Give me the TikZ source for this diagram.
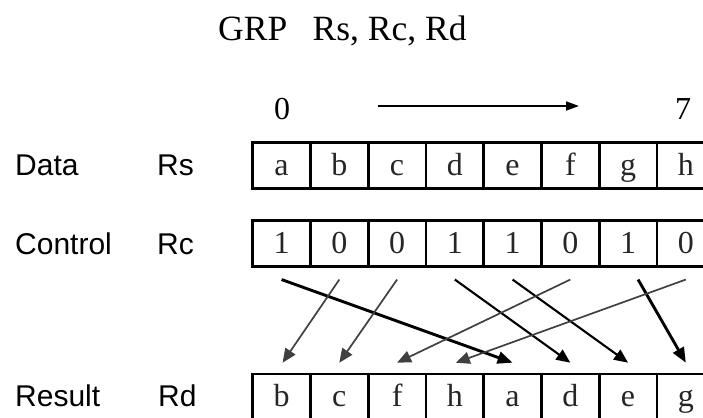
\documentclass[tikz,border=0pt]{standalone}
\usepackage{fontspec}
\setmainfont{Liberation Serif}
\newfontfamily\labelfont{Liberation Sans}
\usetikzlibrary{arrows.meta,calc}

\begin{document}
\begin{tikzpicture}[x=1pt,y=-1pt,
  cell/.style={draw, line width=2.6pt, minimum width=57.75pt, minimum height=45.5pt,
    inner sep=0pt, text height=24pt, text depth=5pt, text=black!85,
    font=\fontsize{32}{32}\selectfont},
  rowlabel/.style={anchor=base west, inner sep=0pt, font=\labelfont\fontsize{30}{30}\selectfont},
  idx/.style={anchor=base, inner sep=0pt, font=\fontsize{32}{32}\selectfont},
  lightarr/.style={draw=black!75, line width=1.7pt, -{Triangle[length=14pt,width=12pt,fill=black!75]}},
  midarr/.style={draw=black, line width=2.1pt, -{Triangle[length=14pt,width=12pt]}},
  boldarr/.style={draw=black, line width=2.9pt, -{Triangle[length=15pt,width=12pt]}}
]
\clip (0,0) rectangle (703,417);

% instruction
\node[anchor=base west, inner sep=0pt, font=\fontsize{35.5}{35.5}\selectfont] (title)
  at (218,40.7) {GRP\hspace{25.5pt}Rs, Rc, Rd};

% bit order
\node[idx] (i0) at (282,120) {0};
\node[idx] (i7) at (683,120) {7};
\coordinate (dirA) at (378,106);
\coordinate (dirB) at (579,106);
\draw[line width=1.8pt, -{Triangle[length=13pt,width=9pt]}] (dirA) -- (dirB);

% row labels
\node[rowlabel] (ldata) at (15,175) {Data};
\node[rowlabel] (lrs) at (157,175) {Rs};
\node[rowlabel] (lctrl) at (15,254.5) {Control};
\node[rowlabel] (lrc) at (157,254.5) {Rc};
\node[rowlabel] (lres) at (15,406) {Result};
\node[rowlabel] (lrd) at (158,406) {Rd};

% registers
\foreach \t [count=\i from 0] in {a,b,c,d,e,f,g,h}
  \node[cell] (s\i) at (281.575+57.75*\i,165.5) {\t};
\foreach \t [count=\i from 0] in {1,0,0,1,1,0,1,0}
  \node[cell] (c\i) at (281.575+57.75*\i,243.5) {\t};
\foreach \t [count=\i from 0] in {b,c,f,h,a,d,e,g}
  \node[cell] (r\i) at (281.575+57.75*\i,396.75) {\t};

% routing of the elements
\draw[boldarr]  ($(c0.south)+(0,12)$)  -- ($(r4.north)+(0,-10)$);
\draw[lightarr] ($(c1.south)+(0,12)$)  -- ($(r0.north)+(1,-10)$);
\draw[lightarr] ($(c2.south)+(0,12)$)  -- ($(r1.north)+(0,-10)$);
\draw[midarr]   ($(c3.south)+(0,12)$)  -- ($(r5.north)+(0,-10)$);
\draw[midarr]   ($(c4.south)+(0,12)$)  -- ($(r6.north)+(0,-10)$);
\draw[lightarr] ($(c5.south)+(0,12)$)  -- ($(r2.north)+(0,-10)$);
\draw[boldarr]  ($(c6.south)+(10,12)$) -- ($(r7.north)+(0,-10)$);
\draw[lightarr] ($(c7.south)+(0,12)$)  -- ($(r3.north)+(1,-10)$);
\end{tikzpicture}
\end{document}
